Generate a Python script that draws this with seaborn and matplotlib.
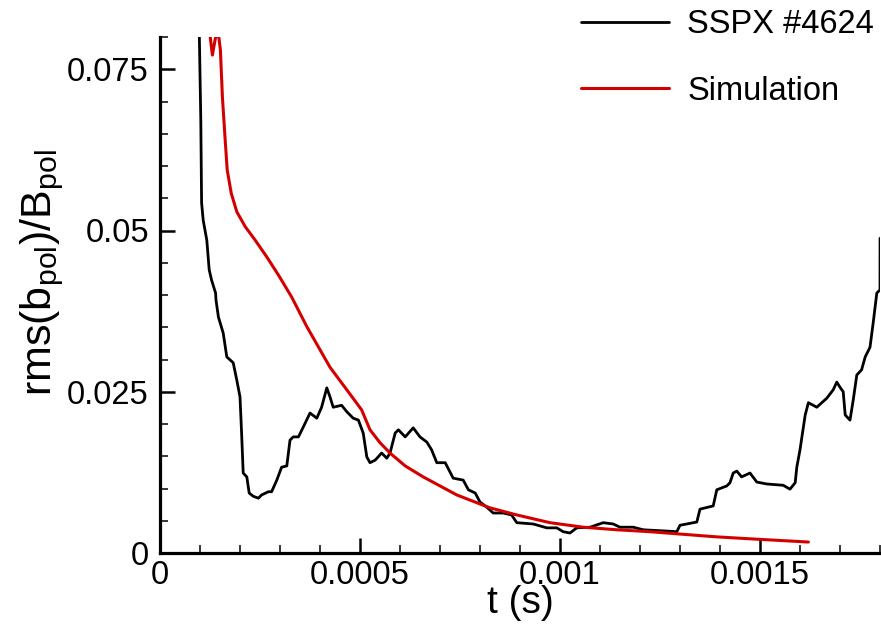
import numpy as np
import pandas as pd
import matplotlib
matplotlib.use("Agg")
import matplotlib.pyplot as plt
import seaborn as sns
from matplotlib.ticker import MultipleLocator, FixedLocator, FixedFormatter

# ---- data ----
exp_t = [9.7e-5, 1.02e-4, 1.04e-4, 1.08e-4, 1.17e-4, 1.23e-4, 1.29e-4, 1.39e-4, 1.40e-4, 1.46e-4,
         1.58e-4, 1.67e-4, 1.83e-4, 1.92e-4, 2.00e-4, 2.04e-4, 2.08e-4, 2.17e-4, 2.23e-4, 2.33e-4,
         2.46e-4, 2.54e-4, 2.71e-4, 2.79e-4, 2.92e-4, 3.04e-4, 3.17e-4, 3.25e-4, 3.33e-4, 3.46e-4,
         3.58e-4, 3.75e-4, 3.92e-4, 4.04e-4, 4.17e-4, 4.25e-4, 4.33e-4, 4.54e-4, 4.67e-4, 4.83e-4,
         4.96e-4, 5.08e-4, 5.17e-4, 5.25e-4, 5.38e-4, 5.54e-4, 5.67e-4, 5.75e-4, 5.88e-4, 5.96e-4,
         6.13e-4, 6.33e-4, 6.50e-4, 6.67e-4, 6.79e-4, 6.92e-4, 7.13e-4, 7.33e-4, 7.58e-4, 7.71e-4,
         7.88e-4, 8.00e-4, 8.17e-4, 8.33e-4, 8.58e-4, 8.79e-4, 8.92e-4, 9.33e-4, 9.67e-4, 9.92e-4,
         1.008e-3, 1.025e-3, 1.042e-3, 1.075e-3, 1.108e-3, 1.133e-3, 1.150e-3, 1.183e-3, 1.208e-3, 1.267e-3,
         1.292e-3, 1.300e-3, 1.342e-3, 1.350e-3, 1.383e-3, 1.392e-3, 1.417e-3, 1.425e-3, 1.433e-3, 1.442e-3,
         1.454e-3, 1.475e-3, 1.492e-3, 1.517e-3, 1.558e-3, 1.575e-3, 1.588e-3, 1.592e-3, 1.600e-3, 1.613e-3,
         1.621e-3, 1.642e-3, 1.667e-3, 1.683e-3, 1.692e-3, 1.700e-3, 1.708e-3, 1.713e-3, 1.725e-3, 1.733e-3,
         1.742e-3, 1.754e-3, 1.763e-3, 1.775e-3, 1.783e-3, 1.792e-3, 1.800e-3, 1.8001e-3]
exp_y = [0.085, 0.0671, 0.0543, 0.0516, 0.0485, 0.0439, 0.0423, 0.0403, 0.0392, 0.0366,
         0.0341, 0.0304, 0.0295, 0.0268, 0.0242, 0.0186, 0.0124, 0.0118, 0.0093, 0.0088,
         0.0085, 0.0090, 0.0095, 0.0095, 0.0113, 0.0133, 0.0135, 0.0175, 0.0180, 0.0180,
         0.0195, 0.0217, 0.0209, 0.0226, 0.0256, 0.0242, 0.0226, 0.0229, 0.0219, 0.0209,
         0.0206, 0.0186, 0.0149, 0.0140, 0.0144, 0.0155, 0.0147, 0.0155, 0.0186, 0.0191,
         0.0180, 0.0194, 0.0180, 0.0172, 0.0160, 0.0140, 0.0140, 0.0116, 0.0113, 0.0098,
         0.0093, 0.0079, 0.0071, 0.0062, 0.0062, 0.0059, 0.0047, 0.0045, 0.0039, 0.0039,
         0.0033, 0.0031, 0.0039, 0.0040, 0.0047, 0.0045, 0.0040, 0.0040, 0.0036, 0.0034,
         0.0033, 0.0043, 0.0048, 0.0068, 0.0073, 0.0098, 0.0104, 0.0109, 0.0124, 0.0127,
         0.0118, 0.0124, 0.0110, 0.0107, 0.0105, 0.0099, 0.0109, 0.0133, 0.0160, 0.0214,
         0.0233, 0.0226, 0.0240, 0.0253, 0.0265, 0.0257, 0.0250, 0.0214, 0.0206, 0.0237,
         0.0276, 0.0284, 0.0304, 0.0319, 0.0357, 0.0403, 0.0408, 0.0488]

sim_t = [1.20e-4, 1.25e-4, 1.31e-4, 1.39e-4, 1.46e-4, 1.51e-4, 1.56e-4, 1.63e-4, 1.68e-4, 1.78e-4,
         1.92e-4, 2.13e-4, 2.38e-4, 2.67e-4, 2.96e-4, 3.29e-4, 3.67e-4, 4.25e-4, 4.67e-4, 5.04e-4,
         5.25e-4, 5.50e-4, 5.75e-4, 6.13e-4, 6.58e-4, 7.42e-4, 8.25e-4, 8.92e-4, 9.75e-4, 1.058e-3,
         1.142e-3, 1.225e-3, 1.308e-3, 1.392e-3, 1.475e-3, 1.621e-3]
sim_y = [0.085, 0.0803, 0.0772, 0.0800, 0.0805, 0.0780, 0.0707, 0.0640, 0.0594, 0.0558,
         0.0529, 0.0506, 0.0485, 0.0459, 0.0431, 0.0397, 0.0351, 0.0288, 0.0253, 0.0222,
         0.0191, 0.0171, 0.0155, 0.0135, 0.0118, 0.0090, 0.0070, 0.0059, 0.0047, 0.0040,
         0.0036, 0.0033, 0.0029, 0.0025, 0.0022, 0.0017]

x_ticks = [0, 0.0005, 0.001, 0.0015]
x_labels = ["0", "0.0005", "0.001", "0.0015"]
y_ticks = [0, 0.025, 0.05, 0.075]
y_labels = ["0", "0.025", "0.05", "0.075"]
series_names = ["SSPX #4624", "Simulation"]

# ---- style ----
sns.set_style("ticks")
plt.rcParams["font.family"] = ["Liberation Sans", "DejaVu Sans"]
plt.rcParams["mathtext.fontset"] = "custom"
plt.rcParams["mathtext.rm"] = "Liberation Sans"
plt.rcParams["mathtext.it"] = "Liberation Sans"
for k in ["text.color", "axes.labelcolor", "xtick.color", "ytick.color", "axes.edgecolor"]:
    plt.rcParams[k] = "black"

df_exp = pd.DataFrame({"t": exp_t, "v": exp_y})
df_sim = pd.DataFrame({"t": sim_t, "v": sim_y})

fig = plt.figure(figsize=(8.81, 6.24), dpi=100)
ax = fig.add_axes([160 / 881, 71 / 624, 720 / 881, 516 / 624])

sns.lineplot(data=df_exp, x="t", y="v", ax=ax, color="black", lw=2.0,
             estimator=None, sort=False, label=series_names[0])
sns.lineplot(data=df_sim, x="t", y="v", ax=ax, color="#d40000", lw=2.2,
             estimator=None, sort=False, label=series_names[1])

ax.set_xlim(0, 0.0018)
ax.set_ylim(0, 0.08)

ax.xaxis.set_major_locator(FixedLocator(x_ticks))
ax.xaxis.set_major_formatter(FixedFormatter(x_labels))
ax.yaxis.set_major_locator(FixedLocator(y_ticks))
ax.yaxis.set_major_formatter(FixedFormatter(y_labels))
ax.xaxis.set_minor_locator(MultipleLocator(0.0001))
ax.yaxis.set_minor_locator(MultipleLocator(0.005))

ax.tick_params(axis="both", which="major", direction="in", length=11, width=1.8,
               labelsize=23.5, color="black", labelcolor="black")
ax.tick_params(axis="both", which="minor", direction="in", length=6, width=1.1, color="black")
ax.tick_params(axis="x", which="major", pad=5)
ax.tick_params(axis="y", which="major", pad=8)

for s in ["top", "right"]:
    ax.spines[s].set_visible(False)
for s in ["left", "bottom"]:
    ax.spines[s].set_linewidth(2.3)
    ax.spines[s].set_color("black")

ax.set_xlabel("t (s)", fontsize=28, labelpad=-4, color="black")
ax.set_ylabel("")
fig.text(42 / 881, 1 - 272 / 624, r"rms(b$_{\mathrm{pol}}$)/B$_{\mathrm{pol}}$",
         rotation=90, ha="center", va="center", fontsize=31, color="black")

ax.legend_.remove()
handles, labels = ax.get_legend_handles_labels()
leg = fig.legend(handles, labels, loc="upper left", bbox_to_anchor=(581 / 881, 1 - 9 / 624),
                 frameon=False, fontsize=23.5, handlelength=2.7, handletextpad=0.55,
                 labelspacing=1.1, borderpad=0, borderaxespad=0)
for txt in leg.get_texts():
    txt.set_color("black")

fig.savefig("out.png", dpi=100)
